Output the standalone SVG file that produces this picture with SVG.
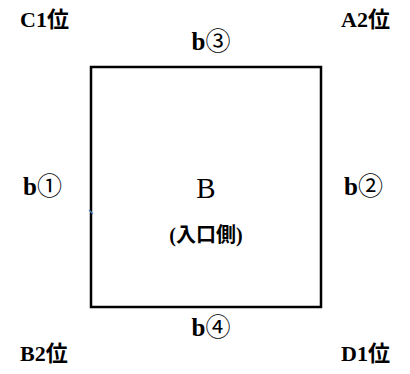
<svg xmlns="http://www.w3.org/2000/svg" width="410" height="374" viewBox="0 0 410 374">
<style>
text{font-family:"Liberation Serif","Noto Sans CJK JP",serif;font-weight:bold;font-size:22px;fill:#000}
.c{text-anchor:middle}
.b{font-size:25px}
.n{font-weight:normal;font-family:"DejaVu Serif","Noto Sans CJK JP",serif}
</style>
<rect width="410" height="374" fill="#fff"/>
<g id="box">
<rect x="91" y="67" width="230" height="240" fill="none" stroke="#000" stroke-width="2.5"/>
<line x1="89" y1="210" x2="93" y2="214" stroke="#4a7fc0" stroke-width="1.2"/>
<text class="c" x="206" y="198" style="font-size:29px;font-weight:normal">B</text>
<text class="c" x="206" y="242" style="font-size:20px">(入口側)</text>
</g>
<g id="labels">
<text x="20" y="27">C1位</text>
<text x="341" y="27">A2位</text>
<text class="c b" x="211" y="50">b<tspan class="n">③</tspan></text>
<text class="b" x="23" y="195">b<tspan class="n">①</tspan></text>
<text class="b" x="344" y="195">b<tspan class="n">②</tspan></text>
<text class="c b" x="211" y="336">b<tspan class="n">④</tspan></text>
<text x="20" y="361">B2位</text>
<text x="341" y="361">D1位</text>
</g>
</svg>
